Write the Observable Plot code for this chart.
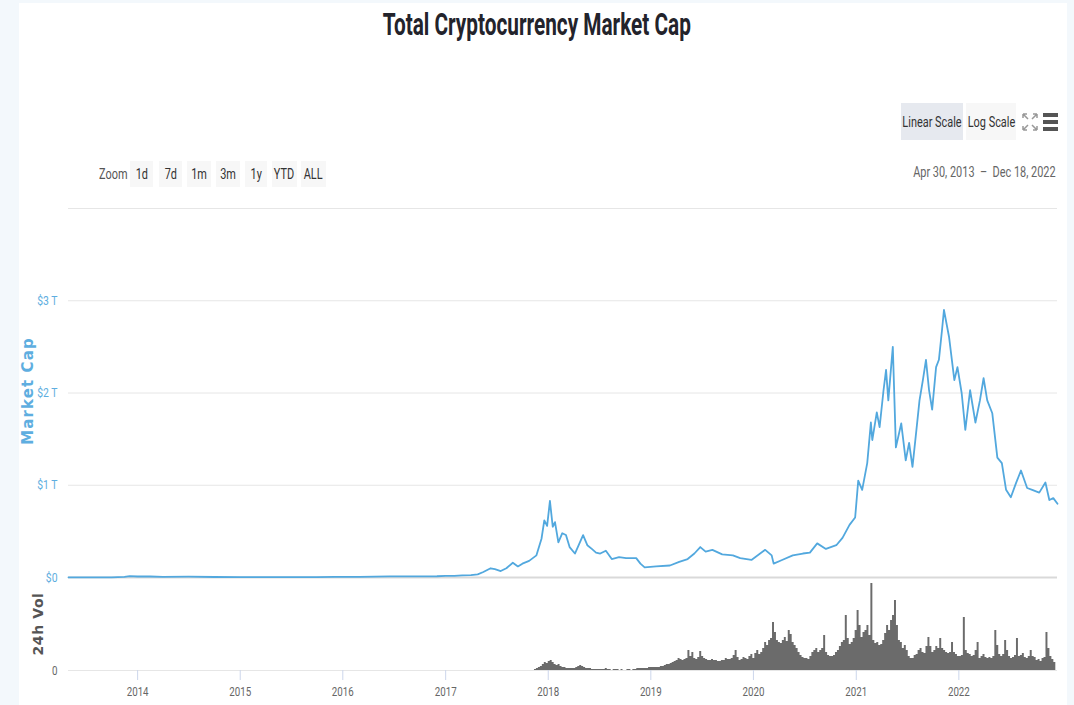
<!DOCTYPE html>
<html><head><meta charset="utf-8">
<script src="https://cdn.jsdelivr.net/npm/d3@7"></script>
<script src="https://cdn.jsdelivr.net/npm/@observablehq/plot@0.6"></script>
<style>
html,body{margin:0;padding:0;}
body{width:1074px;height:705px;background:#f3f8fc;position:relative;overflow:hidden;font-family:Roboto,sans-serif;}
#card{position:absolute;left:19px;top:3px;width:1048px;height:702px;background:#fff;}
.abs{position:absolute;}
.c{display:inline-block;white-space:nowrap;transform:scaleX(.78);}
#title{left:0;width:1074px;top:6px;display:flex;justify-content:center;font-size:31px;line-height:38px;font-weight:bold;color:#23232b;}
#title .c{transform:scaleX(.67);}
.btn{position:absolute;height:26px;display:flex;justify-content:center;align-items:center;font-size:14px;color:#333;background:#f7f7f7;}
.lbl{position:absolute;font-size:14px;color:#555;height:26px;display:flex;align-items:center;}
.rot{position:absolute;transform:rotate(-90deg);transform-origin:center center;white-space:nowrap;
  font-family:"DejaVu Sans",sans-serif;font-weight:bold;font-size:14px;letter-spacing:0.6px;text-align:center;}
</style></head>
<body>
<div id="card"></div>
<div id="title" class="abs"><span class="c">Total Cryptocurrency Market Cap</span></div>

<div class="btn" style="left:901px;top:103px;width:62px;height:37px;background:#e6e9ef;"><span class="c">Linear Scale</span></div>
<div class="btn" style="left:966px;top:103px;width:50px;height:37px;"><span class="c">Log Scale</span></div>
<svg class="abs" style="left:1020px;top:111px" width="20" height="22" viewBox="0 0 20 22">
  <g stroke="#999" stroke-width="1.5" fill="none">
    <path d="M3 3 L8 8 M3 3 L3 7 M3 3 L7 3"/>
    <path d="M17 3 L12 8 M17 3 L17 7 M17 3 L13 3"/>
    <path d="M3 19 L8 14 M3 19 L3 15 M3 19 L7 19"/>
    <path d="M17 19 L12 14 M17 19 L17 15 M17 19 L13 19"/>
  </g>
</svg>
<div class="abs" style="left:1043px;top:111px;width:15px;height:22px;">
  <div class="abs" style="left:0;top:2px;width:15px;height:4px;background:#555"></div>
  <div class="abs" style="left:0;top:9px;width:15px;height:4px;background:#555"></div>
  <div class="abs" style="left:0;top:16px;width:15px;height:4px;background:#555"></div>
</div>

<div class="lbl" style="left:800px;top:159px;width:256px;justify-content:flex-end;color:#666;"><span class="c" style="transform-origin:right center;">Apr 30, 2013 &nbsp;–&nbsp; Dec 18, 2022</span></div>

<div class="lbl" style="left:99px;top:161px;"><span class="c" style="transform-origin:left center;">Zoom</span></div>
<div class="btn" style="left:130px;top:161px;width:23px;"><span class="c">1d</span></div>
<div class="btn" style="left:159px;top:161px;width:23px;"><span class="c">7d</span></div>
<div class="btn" style="left:187px;top:161px;width:24px;"><span class="c">1m</span></div>
<div class="btn" style="left:216px;top:161px;width:24px;"><span class="c">3m</span></div>
<div class="btn" style="left:245px;top:161px;width:22px;"><span class="c">1y</span></div>
<div class="btn" style="left:272px;top:161px;width:25px;"><span class="c">YTD</span></div>
<div class="btn" style="left:301px;top:161px;width:25px;"><span class="c">ALL</span></div>

<div class="rot" style="left:-32px;top:382px;width:120px;color:#5eaee0;font-size:15px;letter-spacing:1.1px;">Market Cap</div>
<div class="rot" style="left:-7px;top:616px;width:90px;color:#555;">24h Vol</div>

<div id="main"></div>
<div id="vol"></div>

<script>
// Total market cap, trillions of USD
const mcDates = ["2013-04-30","2013-07-01","2013-10-01","2013-11-15","2013-12-04","2014-01-01","2014-02-15","2014-04-01","2014-07-01","2014-10-01",
"2015-01-01","2015-04-01","2015-07-01","2015-10-01","2015-12-01","2016-03-01","2016-06-15","2016-09-01","2016-12-01",
"2017-01-01","2017-02-01","2017-03-01","2017-04-01","2017-04-25","2017-05-15","2017-06-10","2017-06-25","2017-07-16","2017-08-05","2017-08-28",
"2017-09-15","2017-10-01","2017-10-25","2017-11-20","2017-12-08","2017-12-18","2017-12-28",
"2018-01-07","2018-01-17","2018-01-25","2018-02-06","2018-02-20","2018-03-05","2018-03-18","2018-04-06","2018-05-05","2018-05-20",
"2018-06-05","2018-06-20","2018-07-05","2018-07-25","2018-08-15","2018-09-10","2018-10-05","2018-11-10","2018-11-25","2018-12-10",
"2019-01-20","2019-03-10","2019-04-12","2019-05-12","2019-06-05","2019-06-26","2019-07-15","2019-08-08","2019-09-12","2019-10-20","2019-11-15","2019-12-25",
"2020-02-12","2020-03-06","2020-03-13","2020-04-12","2020-05-20","2020-06-25","2020-07-20","2020-08-15","2020-09-15","2020-10-22","2020-11-13","2020-12-08","2020-12-28",
"2021-01-08","2021-01-22","2021-02-09","2021-02-22","2021-02-27","2021-03-15","2021-03-25","2021-04-08","2021-04-17","2021-04-25","2021-05-11","2021-05-22",
"2021-06-10","2021-06-26","2021-07-08","2021-07-20","2021-08-03","2021-08-14","2021-08-26","2021-09-06","2021-09-17","2021-09-28","2021-10-12","2021-10-22",
"2021-11-02","2021-11-09","2021-11-27","2021-12-16","2021-12-27",
"2022-01-11","2022-01-24","2022-02-10","2022-03-01","2022-03-17","2022-03-30","2022-04-12","2022-04-30","2022-05-18","2022-06-03","2022-06-18",
"2022-07-05","2022-07-23","2022-08-10","2022-09-01","2022-09-19","2022-10-14","2022-11-05","2022-11-19","2022-12-03","2022-12-18"];
const mcValues = [0.0015,0.0011,0.0019,0.006,0.015,0.011,0.011,0.007,0.0085,0.0055,
0.0045,0.0036,0.0042,0.0042,0.0062,0.0075,0.0115,0.0115,0.0135,
0.0177,0.0185,0.023,0.026,0.034,0.06,0.1,0.09,0.07,0.1,0.16,
0.12,0.15,0.18,0.24,0.42,0.62,0.56,
0.83,0.55,0.6,0.38,0.48,0.46,0.33,0.26,0.46,0.35,
0.31,0.27,0.26,0.29,0.2,0.22,0.21,0.21,0.15,0.11,
0.12,0.13,0.17,0.2,0.26,0.33,0.28,0.3,0.25,0.24,0.21,0.19,
0.3,0.24,0.15,0.19,0.24,0.26,0.27,0.37,0.31,0.35,0.43,0.57,0.65,
1.05,0.95,1.24,1.68,1.49,1.79,1.63,2.03,2.25,1.92,2.5,1.41,
1.67,1.27,1.46,1.2,1.6,1.92,2.14,2.36,2.03,1.82,2.28,2.36,
2.68,2.9,2.61,2.14,2.28,
2.0,1.6,2.03,1.68,1.92,2.16,1.92,1.78,1.3,1.24,0.95,
0.87,1.02,1.16,0.97,0.95,0.92,1.03,0.84,0.86,0.8];

// 24h volume, billions of USD, one value per week starting at volStart
const volStart = "2017-11-13";
const volValues = [4,8,12, 16,24,32,28,
36,40,32,24,20, 24,16,12,12, 8,8,8,8, 8,12,16,20,16, 12,8,8,8, 4,4,4,4, 4,4,4,8,4, 4,0,4,4, 4,0,4,0, 0,4,4,0,4, 4,8,8,8, 8,8,8,12,12,
12,12,12,12, 16,16,20,24, 24,28,32,36, 40,48,44,40,44, 48,80,56,72, 48,44,52,76, 56,48,44,40,40, 44,40,40,36, 36,40,40,48,44, 44,48,60,80, 52,40,44,52, 48,44,56,64,48,
68,80,64,72, 88,112,100,120, 128,192,152,120,112, 108,120,132,116, 160,144,112,100, 88,72,60,52,48, 48,44,56,72, 80,88,72,80,88, 140,72,60,56, 56,60,72,80, 96,112,120,220,128, 104,112,128,160,
240,180,132,152, 160,180,140,348, 120,108,112,100,104, 120,148,180,160, 200,220,280,180,120, 112,88,100,80, 56,48,48,60, 64,80,88,72,68, 96,132,96,72, 80,96,88,128, 88,80,72,68,72, 112,72,64,56,
56,60,212,80,68, 64,56,60,80, 112,48,56,64, 52,48,52,48, 56,160,100,64,56, 64,120,80,56, 48,52,60,128, 56,60,68,52,48, 56,80,56,52, 40,44,36,48,52, 152,88,56,44, 32,28];

const yTicks = [0, 1, 2, 3];
const gridTicks = [1, 2, 3, 4];
const yearTicks = [2014, 2015, 2016, 2017, 2018, 2019, 2020, 2021, 2022];
const rangeStart = "2013-04-30", rangeEnd = "2022-12-18";

const font = 'Roboto,sans-serif';
const xDomain = [new Date(rangeStart), new Date(rangeEnd)];
const mc = mcDates.map((d, i) => ({date: new Date(d), value: mcValues[i]}));
const vs = new Date(volStart);
const vol = volValues.map((v, i) => ({date: d3.utcWeek.offset(vs, i), value: v}));

function condense(svg, f) {
  svg.querySelectorAll("text").forEach(t => {
    const w = t.getComputedTextLength();
    t.setAttribute("textLength", (w * f).toFixed(1));
    t.setAttribute("lengthAdjust", "spacingAndGlyphs");
  });
}

const mainPlot = Plot.plot({
  width: 1074, height: 392, marginLeft: 68, marginRight: 17, marginTop: 10, marginBottom: 13,
  style: {background: "transparent", fontFamily: font, fontSize: "13px", position: "absolute", top: "198px", left: "0px"},
  x: {type: "utc", domain: xDomain, axis: null},
  y: {domain: [0, 4], axis: null},
  marks: [
    Plot.ruleY(gridTicks, {stroke: "#e6e6e6"}),
    Plot.ruleY([0], {stroke: "#d9d9d9", strokeWidth: 2}),
    Plot.axisY(yTicks, {tickSize: 0, tickPadding: 11, fill: "#5eaee0", fontSize: 13, label: null,
      tickFormat: d => d === 0 ? "$0" : `$${d} T`}),
    Plot.line(mc, {x: "date", y: "value", stroke: "#52a8de", strokeWidth: 1.8})
  ]
});
document.getElementById("main").append(mainPlot);
condense(mainPlot, 0.8);

const volPlot = Plot.plot({
  width: 1074, height: 128, marginLeft: 68, marginRight: 17, marginTop: 3, marginBottom: 35,
  style: {background: "transparent", fontFamily: font, fontSize: "13px", position: "absolute", top: "577px", left: "0px"},
  x: {type: "utc", domain: xDomain, axis: null},
  y: {domain: [0, 360], axis: null},
  marks: [
    Plot.ruleY([0], {stroke: "#e6e6e6"}),
    Plot.areaY(vol, {x: "date", y: "value", curve: "step-after", fill: "#6b6b6b", clip: true}),
    Plot.axisY([0], {tickSize: 0, tickPadding: 11, fill: "#666", fontSize: 13, label: null, tickFormat: d => "0"}),
    Plot.axisX(yearTicks.map(y => new Date(Date.UTC(y, 0, 1))), {tickSize: 10, tickPadding: 6, stroke: "#ccd6eb",
      fill: "#666", fontSize: 13, label: null, tickFormat: d => String(d.getUTCFullYear())})
  ]
});
document.getElementById("vol").append(volPlot);
condense(volPlot, 0.75);
</script>
</body></html>
